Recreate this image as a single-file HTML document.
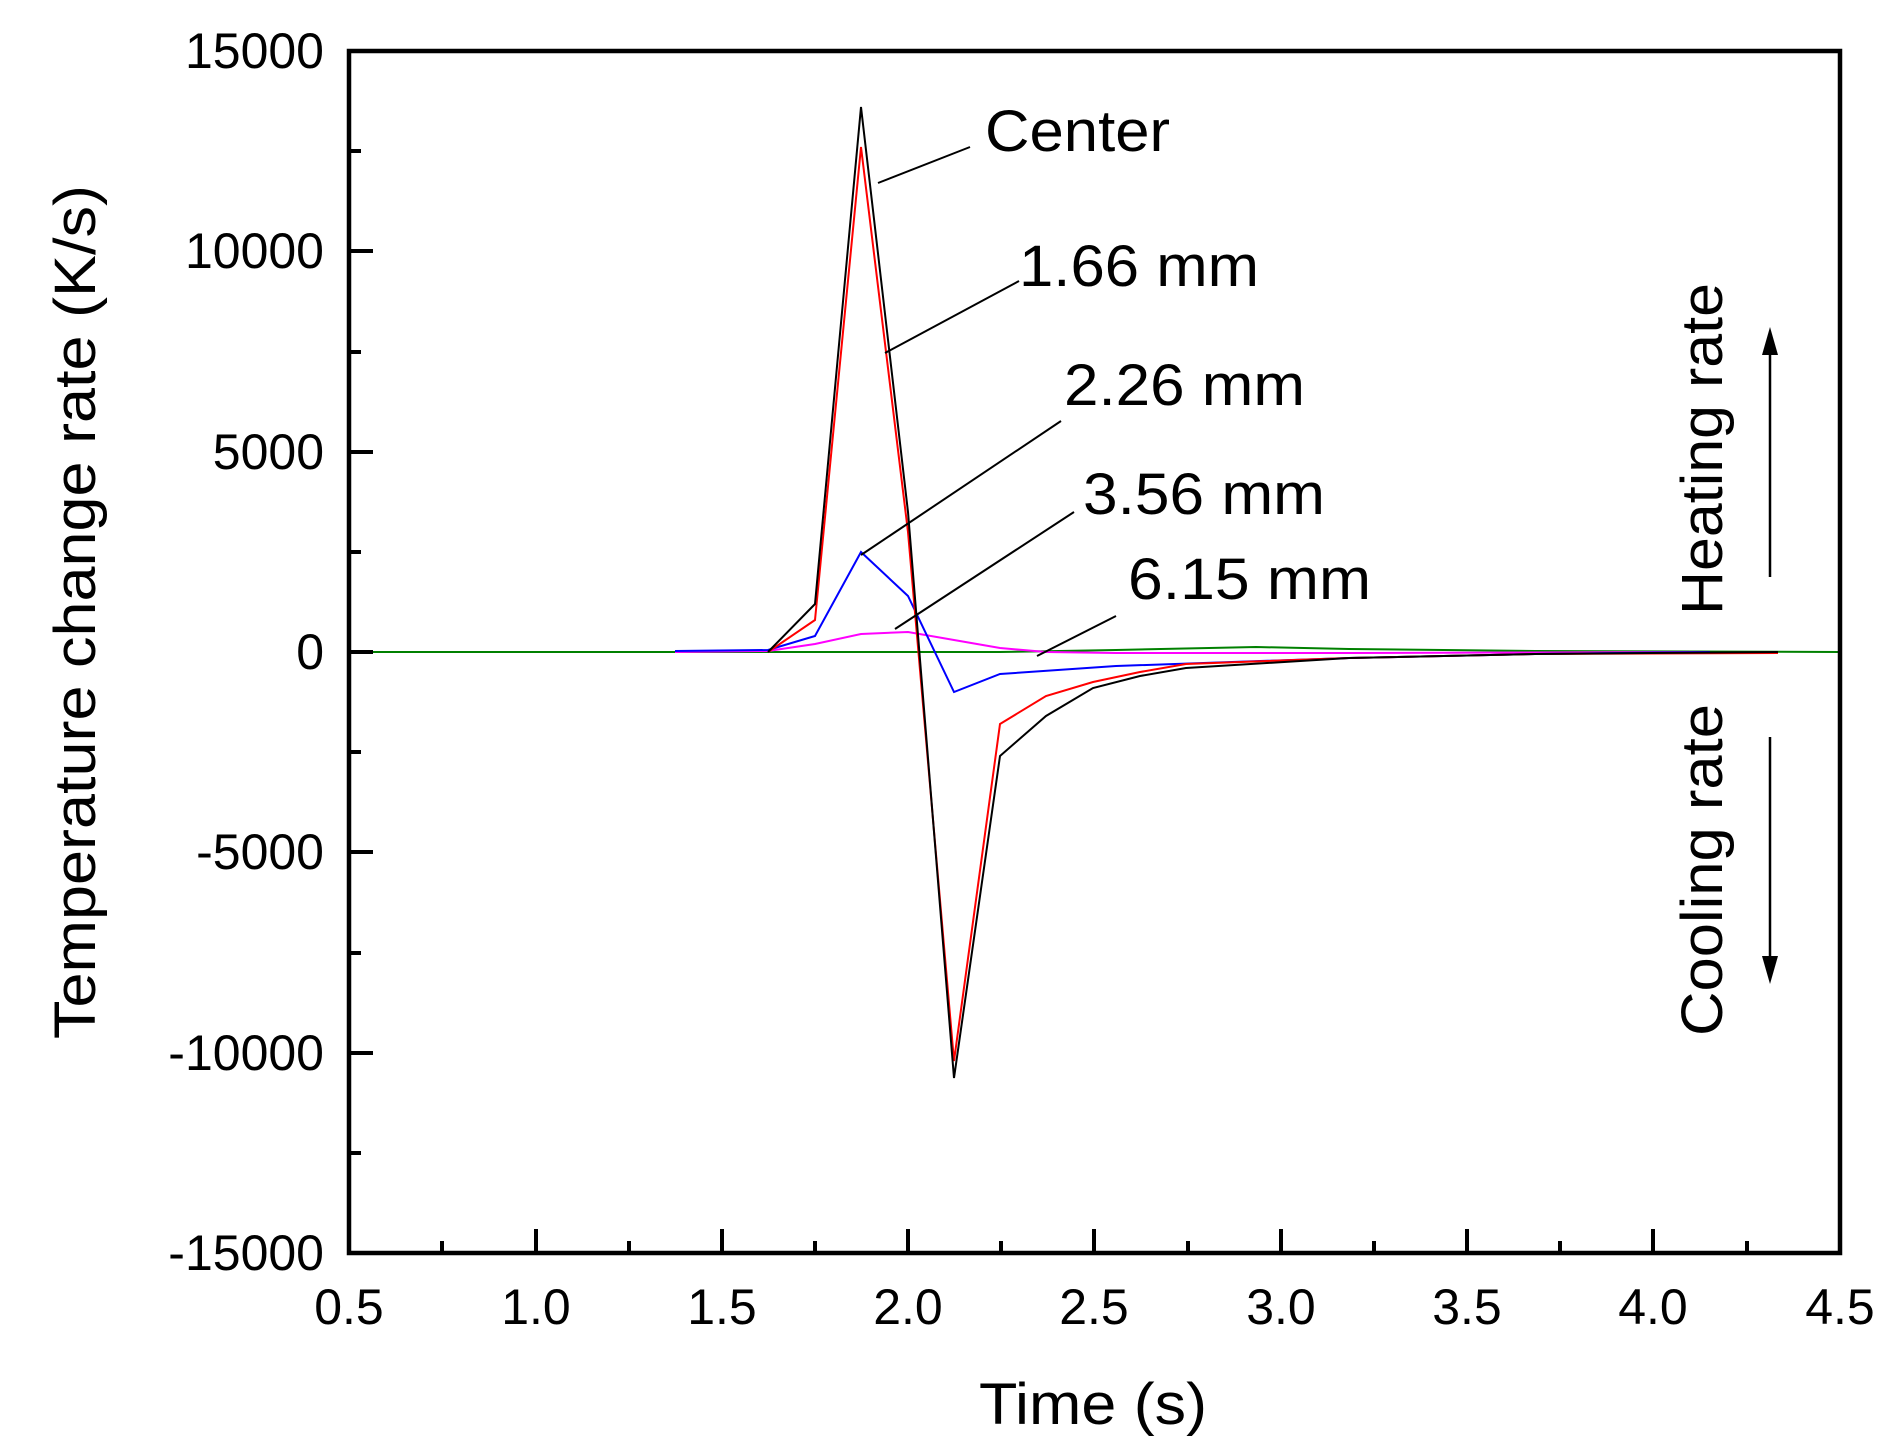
<!DOCTYPE html>
<html><head><meta charset="utf-8"><style>html,body{margin:0;padding:0;background:#fff}svg{display:block}</style></head>
<body>
<svg width="1903" height="1445" viewBox="0 0 1903 1445" xmlns="http://www.w3.org/2000/svg" font-family="Liberation Sans, Arial, sans-serif">
<rect width="1903" height="1445" fill="#fff"/>
<g id="data" fill="none" stroke-width="2" stroke-linejoin="miter">
<polyline stroke="#008000" points="349,652 1000,652 1116,650 1209,648 1256,647 1349,649 1535,651 1840,652"/>
<polyline stroke="#ff00ff" points="675,652 768,651 815,644 861,634 908,632 954,640 1000,648 1046,652 1116,653 1349,653 1710,652"/>
<polyline stroke="#0000ff" points="675,651 768,650 815,636 861,552 908,596 954,692 1000,674 1116,666 1349,658 1535,654 1710,652"/>
<polyline stroke="#ff0000" points="768,652 815,620 861,147 908,532 954,1061 1000,724 1046,696 1093,682 1140,672 1186,664 1349,658 1535,654 1778,653"/>
<polyline stroke="#000000" points="768,652 815,604 861,107 908,512 954,1078 1000,756 1046,716 1093,688 1140,676 1186,668 1349,658 1535,654 1778,652"/>
</g>
<g stroke="#000" stroke-width="2" fill="none">
<line x1="878" y1="183" x2="970" y2="147"/>
<line x1="885" y1="353" x2="1019" y2="281"/>
<line x1="861" y1="555" x2="1061" y2="421"/>
<line x1="895" y1="629" x2="1074" y2="512"/>
<line x1="1037" y1="656" x2="1116" y2="616"/>
</g>
<g font-size="58" fill="#000">
<text x="985" y="151" textLength="185" lengthAdjust="spacingAndGlyphs">Center</text>
<text x="1019" y="286" textLength="240" lengthAdjust="spacingAndGlyphs">1.66 mm</text>
<text x="1064" y="405" textLength="241" lengthAdjust="spacingAndGlyphs">2.26 mm</text>
<text x="1083" y="514" textLength="242" lengthAdjust="spacingAndGlyphs">3.56 mm</text>
<text x="1128" y="599" textLength="243" lengthAdjust="spacingAndGlyphs">6.15 mm</text>
<text transform="translate(1722,449) rotate(-90)" text-anchor="middle" textLength="332" lengthAdjust="spacingAndGlyphs">Heating rate</text>
<text transform="translate(1722,870) rotate(-90)" text-anchor="middle" textLength="332" lengthAdjust="spacingAndGlyphs">Cooling rate</text>
<text transform="translate(95,612) rotate(-90)" text-anchor="middle" textLength="854" lengthAdjust="spacingAndGlyphs">Temperature change rate (K/s)</text>
<text x="1093" y="1424" text-anchor="middle" textLength="228" lengthAdjust="spacingAndGlyphs">Time (s)</text>
</g>
<g stroke="#000" stroke-width="2.5" fill="#000">
<line x1="1770" y1="577" x2="1770" y2="350"/>
<polygon points="1770,327 1762,355 1778,355" stroke="none"/>
<line x1="1770" y1="737" x2="1770" y2="960"/>
<polygon points="1770,984 1762,956 1778,956" stroke="none"/>
</g>
<rect x="349" y="51" width="1491" height="1202" fill="none" stroke="#000" stroke-width="4.5"/>
<g stroke="#000" stroke-width="4">
<line x1="349" y1="51" x2="373" y2="51"/>
<line x1="349" y1="151" x2="361" y2="151"/>
<line x1="349" y1="251" x2="373" y2="251"/>
<line x1="349" y1="352" x2="361" y2="352"/>
<line x1="349" y1="452" x2="373" y2="452"/>
<line x1="349" y1="552" x2="361" y2="552"/>
<line x1="349" y1="652" x2="373" y2="652"/>
<line x1="349" y1="752" x2="361" y2="752"/>
<line x1="349" y1="852" x2="373" y2="852"/>
<line x1="349" y1="953" x2="361" y2="953"/>
<line x1="349" y1="1053" x2="373" y2="1053"/>
<line x1="349" y1="1153" x2="361" y2="1153"/>
<line x1="349" y1="1253" x2="373" y2="1253"/>
<line x1="442" y1="1253" x2="442" y2="1241"/>
<line x1="536" y1="1253" x2="536" y2="1229"/>
<line x1="629" y1="1253" x2="629" y2="1241"/>
<line x1="722" y1="1253" x2="722" y2="1229"/>
<line x1="815" y1="1253" x2="815" y2="1241"/>
<line x1="908" y1="1253" x2="908" y2="1229"/>
<line x1="1001" y1="1253" x2="1001" y2="1241"/>
<line x1="1094" y1="1253" x2="1094" y2="1229"/>
<line x1="1188" y1="1253" x2="1188" y2="1241"/>
<line x1="1281" y1="1253" x2="1281" y2="1229"/>
<line x1="1374" y1="1253" x2="1374" y2="1241"/>
<line x1="1467" y1="1253" x2="1467" y2="1229"/>
<line x1="1560" y1="1253" x2="1560" y2="1241"/>
<line x1="1653" y1="1253" x2="1653" y2="1229"/>
<line x1="1747" y1="1253" x2="1747" y2="1241"/>
</g>
<g font-size="50" fill="#000" text-anchor="end">
<text x="324" y="68">15000</text>
<text x="324" y="268">10000</text>
<text x="324" y="469">5000</text>
<text x="324" y="669">0</text>
<text x="324" y="869">-5000</text>
<text x="324" y="1070">-10000</text>
<text x="324" y="1270">-15000</text>
</g>
<g font-size="50" fill="#000" text-anchor="middle">
<text x="349" y="1324">0.5</text>
<text x="536" y="1324">1.0</text>
<text x="722" y="1324">1.5</text>
<text x="908" y="1324">2.0</text>
<text x="1094" y="1324">2.5</text>
<text x="1281" y="1324">3.0</text>
<text x="1467" y="1324">3.5</text>
<text x="1653" y="1324">4.0</text>
<text x="1840" y="1324">4.5</text>
</g>
</svg>
</body></html>
